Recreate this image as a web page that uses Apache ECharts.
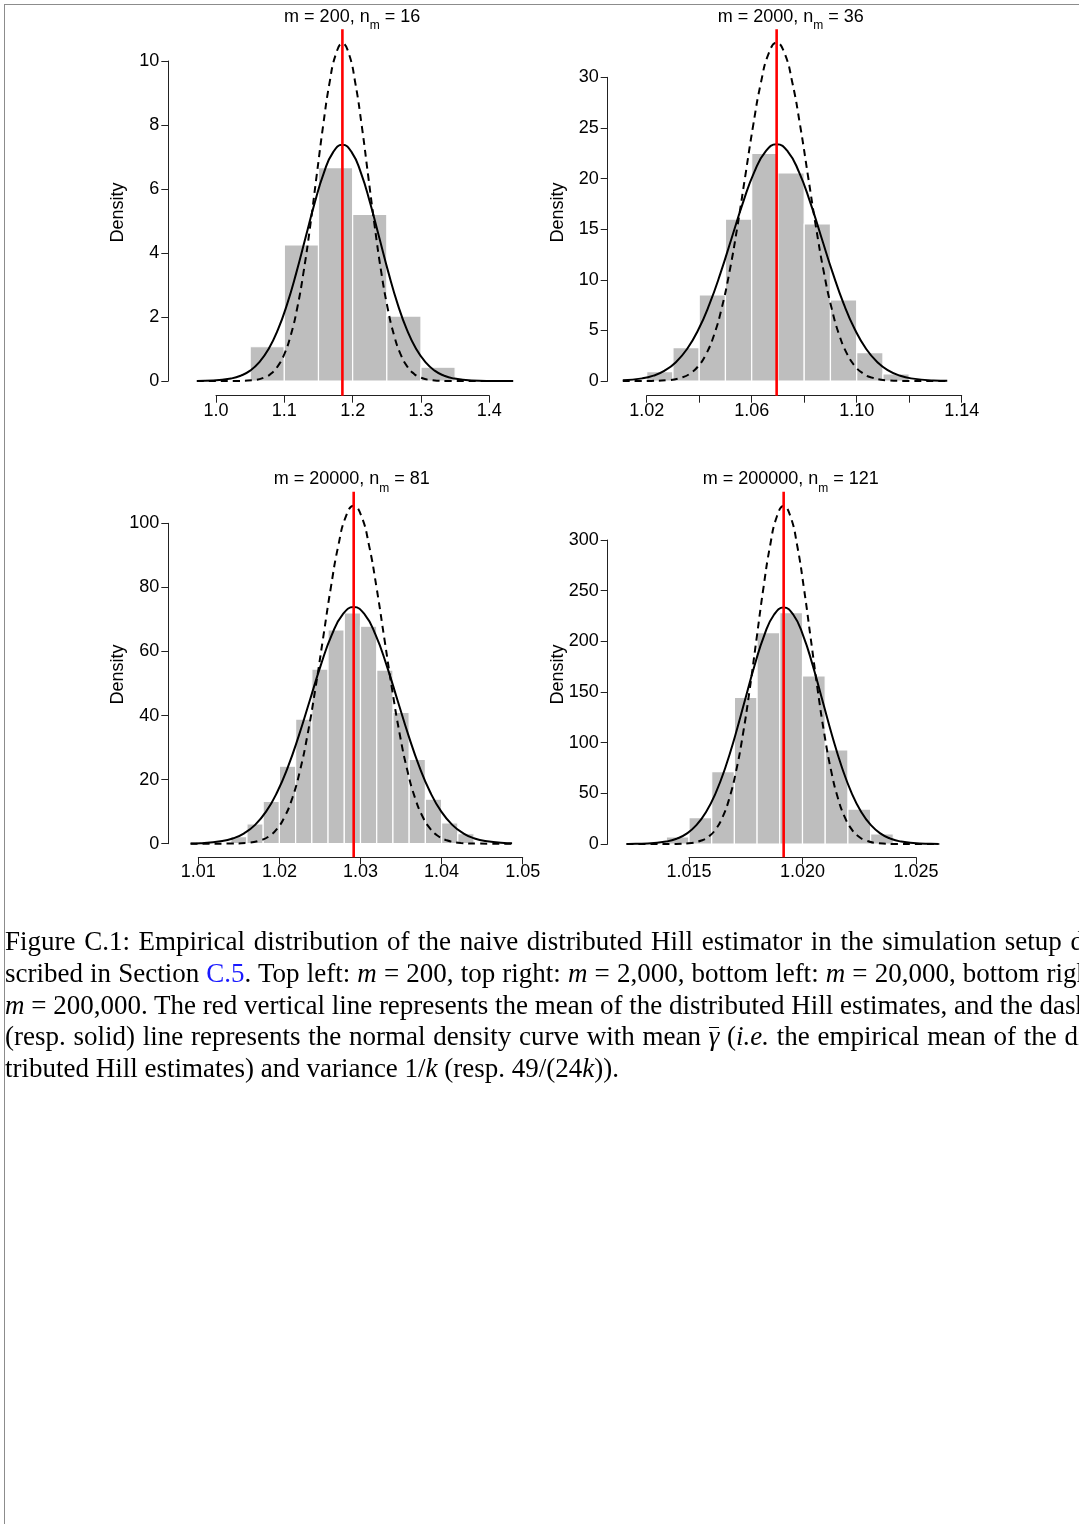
<!DOCTYPE html>
<html><head><meta charset="utf-8">
<script src="https://cdn.jsdelivr.net/npm/echarts@6/dist/echarts.min.js"></script>
<style>
html,body{margin:0;padding:0;background:#fff;width:1079px;height:1524px;overflow:hidden;}
#chart{position:absolute;left:0;top:0;width:1079px;height:1524px;}
#frame{position:absolute;left:4px;top:4px;width:1200px;height:1600px;border-top:1px solid #8c8c8c;border-left:1px solid #8c8c8c;pointer-events:none;}
#caption{position:absolute;left:5px;top:926px;font-family:'Liberation Serif','Times New Roman',serif;font-size:27px;line-height:31.75px;color:#000;}
.ln{white-space:nowrap;width:1100px;text-align:justify;text-align-last:justify;}
.ln.last{text-align-last:left;}
.blue{color:#1a1aff;}
.ov{display:inline-block;border-top:1.3px solid #000;line-height:0.6em;padding-top:0;}
</style>
</head><body>
<div id="chart"></div>
<div id="frame"></div>
<div id="caption">
<div class="ln">Figure C.1: Empirical distribution of the naive distributed Hill estimator in the simulation setup de-</div>
<div class="ln">scribed in Section <span class="blue">C.5</span>. Top left: <i>m</i> = 200, top right: <i>m</i> = 2,000, bottom left: <i>m</i> = 20,000, bottom right:</div>
<div class="ln"><i>m</i> = 200,000. The red vertical line represents the mean of the distributed Hill estimates, and the dashed</div>
<div class="ln">(resp. solid) line represents the normal density curve with mean <span class="ov"><i>γ</i></span> (<i>i.e.</i> the empirical mean of the dis-</div>
<div class="ln last">tributed Hill estimates) and variance 1/<i>k</i> (resp. 49/(24<i>k</i>)).</div>
</div>
<script>
// ---------------- DATA ----------------
const panelTitles = ['m = 200, n{s|m} = 16', 'm = 2000, n{s|m} = 36', 'm = 20000, n{s|m} = 81', 'm = 200000, n{s|m} = 121'];
const yTitle = 'Density';
const means = [1.185, 1.0695, 1.02916, 1.01917];
const binWidth = [0.05, 0.01, 0.002, 0.001];

const binStart1 = [1.05, 1.10, 1.15, 1.20, 1.25, 1.30];
const density1 = [1.07, 4.25, 6.67, 5.21, 2.03, 0.43];
const binStart2 = [1.02, 1.03, 1.04, 1.05, 1.06, 1.07, 1.08, 1.09, 1.10, 1.11];
const density2 = [0.92, 3.29, 8.50, 16.0, 22.49, 20.55, 15.51, 8.0, 2.80, 0.69];
const binStart3 = [1.014, 1.016, 1.018, 1.020, 1.022, 1.024, 1.026, 1.028, 1.030, 1.032, 1.034, 1.036, 1.038, 1.040, 1.042];
const density3 = [2.2, 6.2, 13.2, 24.2, 38.9, 54.5, 66.7, 72.0, 67.9, 54.2, 41.0, 26.3, 13.9, 6.5, 3.1];
const binStart4 = [1.014, 1.015, 1.016, 1.017, 1.018, 1.019, 1.020, 1.021, 1.022, 1.023];
const density4 = [6.9, 26.0, 71.4, 144.7, 208.6, 228.3, 165.8, 92.8, 34.5, 9.9];

// dashed curves (variance 1/k)
const dashX1 = [0.972, 1.0338, 1.0527, 1.0716, 1.0811, 1.0905, 1.1000, 1.1094, 1.1189, 1.1283, 1.1378, 1.1472, 1.1567, 1.1661, 1.1756, 1.1850, 1.1945, 1.2039, 1.2134, 1.2228, 1.2323, 1.2417, 1.2512, 1.2606, 1.2701, 1.2795, 1.2890, 1.2984, 1.3173, 1.3362, 1.435];
const dashY1 = [0, 0.0035, 0.023, 0.117, 0.240, 0.464, 0.839, 1.428, 2.282, 3.425, 4.830, 6.399, 7.964, 9.310, 10.225, 10.55, 10.225, 9.310, 7.964, 6.399, 4.830, 3.425, 2.282, 1.428, 0.839, 0.464, 0.240, 0.117, 0.023, 0.0035, 0];
const dashX2 = [1.0109, 1.02174, 1.02771, 1.03368, 1.03667, 1.03965, 1.04264, 1.04562, 1.04861, 1.05159, 1.05458, 1.05756, 1.06055, 1.06353, 1.06652, 1.0695, 1.07249, 1.07547, 1.07846, 1.08144, 1.08443, 1.08741, 1.09040, 1.09338, 1.09637, 1.09935, 1.10234, 1.10532, 1.11129, 1.11726, 1.1345];
const dashY2 = [0, 0.011, 0.073, 0.371, 0.762, 1.468, 2.659, 4.523, 7.228, 10.850, 15.301, 20.270, 25.227, 29.493, 32.392, 33.42, 32.392, 29.493, 25.227, 20.270, 15.301, 10.850, 7.228, 4.523, 2.659, 1.468, 0.762, 0.371, 0.073, 0.011, 0];
const dashX3 = [1.00905, 1.014032, 1.015923, 1.017814, 1.018759, 1.019705, 1.020650, 1.021596, 1.022541, 1.023487, 1.024432, 1.025378, 1.026323, 1.027269, 1.028214, 1.02916, 1.030106, 1.031051, 1.031997, 1.032942, 1.033888, 1.034833, 1.035779, 1.036724, 1.037670, 1.038615, 1.039561, 1.040506, 1.042397, 1.044288, 1.04869];
const dashY3 = [0, 0.035, 0.231, 1.172, 2.404, 4.636, 8.394, 14.278, 22.816, 34.251, 48.301, 63.989, 79.636, 93.104, 102.254, 105.5, 102.254, 93.104, 79.636, 63.989, 48.301, 34.251, 22.816, 14.278, 8.394, 4.636, 2.404, 1.172, 0.231, 0.035, 0];
const dashX4 = [1.01225, 1.014386, 1.014984, 1.015582, 1.015881, 1.016180, 1.016479, 1.016778, 1.017077, 1.017376, 1.017675, 1.017974, 1.018273, 1.018572, 1.018871, 1.01917, 1.019469, 1.019768, 1.020067, 1.020366, 1.020665, 1.020964, 1.021263, 1.021562, 1.021861, 1.022160, 1.022459, 1.022758, 1.023356, 1.023954, 1.02603];
const dashY4 = [0, 0.112, 0.730, 3.705, 7.600, 14.654, 26.533, 45.136, 72.126, 108.271, 152.686, 202.278, 251.739, 294.314, 323.238, 333.5, 323.238, 294.314, 251.739, 202.278, 152.686, 108.271, 72.126, 45.136, 26.533, 14.654, 7.600, 3.705, 0.730, 0.112, 0];

// solid curves (variance 49/(24k))
const solidX1 = [0.972, 0.996, 1.023, 1.0365, 1.050, 1.0635, 1.077, 1.0905, 1.104, 1.1175, 1.131, 1.1445, 1.158, 1.1715, 1.185, 1.1985, 1.212, 1.2255, 1.239, 1.2525, 1.266, 1.2795, 1.293, 1.3065, 1.320, 1.3335, 1.347, 1.374, 1.401, 1.435];
const solidY1 = [0.0031, 0.016, 0.082, 0.168, 0.324, 0.587, 0.999, 1.596, 2.396, 3.379, 4.476, 5.571, 6.513, 7.153, 7.38, 7.153, 6.513, 5.571, 4.476, 3.379, 2.396, 1.596, 0.999, 0.587, 0.324, 0.168, 0.082, 0.016, 0.0025, 0];
const solidX2 = [1.0109, 1.01832, 1.02259, 1.02685, 1.03112, 1.03538, 1.03965, 1.04391, 1.04818, 1.05244, 1.05671, 1.06097, 1.06524, 1.0695, 1.07377, 1.07803, 1.08230, 1.08656, 1.09083, 1.09509, 1.09936, 1.10362, 1.10789, 1.11215, 1.11642, 1.12068, 1.12921, 1.1345];
const solidY2 = [0.064, 0.260, 0.533, 1.027, 1.860, 3.164, 5.056, 7.590, 10.704, 14.181, 17.648, 20.633, 22.661, 23.38, 22.661, 20.633, 17.648, 14.181, 10.704, 7.590, 5.056, 3.164, 1.860, 1.027, 0.533, 0.260, 0.051, 0.016];
const solidX3 = [1.00905, 1.010249, 1.012951, 1.014302, 1.015652, 1.017003, 1.018354, 1.019705, 1.021055, 1.022406, 1.023757, 1.025108, 1.026458, 1.027809, 1.02916, 1.030511, 1.031862, 1.033212, 1.034563, 1.035914, 1.037265, 1.038615, 1.039966, 1.041317, 1.042668, 1.044018, 1.045369, 1.048071, 1.04869];
const solidY3 = [0.072, 0.162, 0.820, 1.683, 3.245, 5.876, 9.995, 15.971, 23.975, 33.811, 44.792, 55.745, 65.173, 71.578, 73.85, 71.578, 65.173, 55.745, 44.792, 33.811, 23.975, 15.971, 9.995, 5.876, 3.245, 1.683, 0.820, 0.162, 0.107];
const solidX4 = [1.01225, 1.012334, 1.013188, 1.014043, 1.014470, 1.014897, 1.015325, 1.015752, 1.016179, 1.016606, 1.017034, 1.017461, 1.017888, 1.018315, 1.018743, 1.01917, 1.019597, 1.020025, 1.020452, 1.020879, 1.021306, 1.021734, 1.022161, 1.022588, 1.023015, 1.023443, 1.023870, 1.024297, 1.025152, 1.026006, 1.02603];
const solidY4 = [0.06, 0.078, 0.511, 2.593, 5.319, 10.256, 18.569, 31.588, 50.477, 75.773, 106.858, 141.564, 176.180, 205.976, 226.218, 233.4, 226.218, 205.976, 176.180, 141.564, 106.858, 75.773, 50.477, 31.588, 18.569, 10.256, 5.319, 2.593, 0.511, 0.078, 0.06];

// tick labels
const xTicks1 = ['1.0', '1.1', '1.2', '1.3', '1.4'];
const xLabels1 = ['1.0', '1.1', '1.2', '1.3', '1.4'];
const xTicks2 = ['1.02', '1.04', '1.06', '1.08', '1.10', '1.12', '1.14'];
const xLabels2 = ['1.02', '1.06', '1.10', '1.14'];
const xTicks3 = ['1.01', '1.02', '1.03', '1.04', '1.05'];
const xLabels3 = ['1.01', '1.02', '1.03', '1.04', '1.05'];
const xTicks4 = ['1.015', '1.020', '1.025'];
const xLabels4 = ['1.015', '1.020', '1.025'];
const yTicks1 = ['0', '2', '4', '6', '8', '10'];
const yTicks2 = ['0', '5', '10', '15', '20', '25', '30'];
const yTicks3 = ['0', '20', '40', '60', '80', '100'];
const yTicks4 = ['0', '50', '100', '150', '200', '250', '300'];

// ---------------- LAYOUT (pixels) ----------------
const layout = [
  {L: 168.3, T: 29.3, W: 367.7, H: 366.4, xa: [1.0, 216.0, 1.4, 489.3], ya: [0, 381, 10, 61]},
  {L: 607.7, T: 29.3, W: 366.0, H: 366.4, xa: [1.02, 646.7, 1.14, 961.7], ya: [0, 381, 30, 77.3]},
  {L: 168.3, T: 491.7, W: 366.8, H: 365.6, xa: [1.01, 198.3, 1.05, 522.7], ya: [0, 843.7, 100, 523.3]},
  {L: 607.7, T: 491.7, W: 366.0, H: 365.6, xa: [1.015, 689, 1.025, 916], ya: [0, 844, 300, 540]}
];

const panels = [
  {bs: binStart1, d: density1, dx: dashX1, dy: dashY1, sx: solidX1, sy: solidY1, xt: xTicks1, xl: xLabels1, yt: yTicks1},
  {bs: binStart2, d: density2, dx: dashX2, dy: dashY2, sx: solidX2, sy: solidY2, xt: xTicks2, xl: xLabels2, yt: yTicks2},
  {bs: binStart3, d: density3, dx: dashX3, dy: dashY3, sx: solidX3, sy: solidY3, xt: xTicks3, xl: xLabels3, yt: yTicks3},
  {bs: binStart4, d: density4, dx: dashX4, dy: dashY4, sx: solidX4, sy: solidY4, xt: xTicks4, xl: xLabels4, yt: yTicks4}
];

const FONT = "'Liberation Sans', Arial, Helvetica, sans-serif";
const AXC = '#222';
const grids = [], xAxes = [], yAxes = [], series = [], graphics = [];

panels.forEach((p, i) => {
  const g = layout[i];
  const kx = (g.xa[3] - g.xa[1]) / (g.xa[2] - g.xa[0]);
  const ky = (g.ya[1] - g.ya[3]) / (g.ya[2] - g.ya[0]);
  const xmin = g.xa[0] + (g.L - g.xa[1]) / kx;
  const xmax = xmin + g.W / kx;
  const ymax = g.ya[0] + (g.ya[1] - g.T) / ky;
  const ymin = ymax - g.H / ky;
  const px = v => g.xa[1] + (v - g.xa[0]) * kx;
  const py = v => g.ya[1] - (v - g.ya[0]) * ky;

  const x0 = parseFloat(p.xt[0]), x1 = parseFloat(p.xt[p.xt.length - 1]);
  const xInt = parseFloat(p.xt[1]) - x0;
  const y0 = parseFloat(p.yt[0]), y1 = parseFloat(p.yt[p.yt.length - 1]);
  const yInt = parseFloat(p.yt[1]) - y0;
  const dec = p.xt[0].split('.')[1].length;

  grids.push({left: g.L, top: g.T, width: g.W, height: g.H, outerBoundsMode: 'none', containLabel: false});
  grids.push({left: px(x0), top: g.T + g.H - 20, width: px(x1) - px(x0), height: 20, outerBoundsMode: 'none', containLabel: false});
  grids.push({left: g.L, top: py(y1), width: 20, height: py(y0) - py(y1), outerBoundsMode: 'none', containLabel: false});

  const gi = 3 * i;
  xAxes.push({type: 'value', gridIndex: gi, min: xmin, max: xmax, show: false});
  xAxes.push({type: 'value', gridIndex: gi + 1, min: x0, max: x1, interval: xInt, position: 'bottom',
    axisLine: {show: true, onZero: false, lineStyle: {color: AXC, width: 1}},
    axisTick: {show: true, inside: false, length: 7, lineStyle: {color: AXC, width: 1}},
    splitLine: {show: false},
    axisLabel: {show: true, margin: 6, color: '#000', fontSize: 18, fontFamily: FONT, showMinLabel: true, showMaxLabel: true, hideOverlap: false,
      formatter: v => { const s = v.toFixed(dec); return p.xl.indexOf(s) >= 0 ? s : ''; }}
  });
  xAxes.push({type: 'value', gridIndex: gi + 2, min: 0, max: 1, show: false});

  yAxes.push({type: 'value', gridIndex: gi, min: ymin, max: ymax, show: false});
  yAxes.push({type: 'value', gridIndex: gi + 1, min: 0, max: 1, show: false});
  yAxes.push({type: 'value', gridIndex: gi + 2, min: y0, max: y1, interval: yInt, position: 'left',
    axisLine: {show: true, onZero: false, lineStyle: {color: AXC, width: 1}},
    axisTick: {show: true, inside: false, length: 7, lineStyle: {color: AXC, width: 1}},
    splitLine: {show: false},
    axisLabel: {show: true, margin: 9, color: '#000', fontSize: 18, fontFamily: FONT, showMinLabel: true, showMaxLabel: true, hideOverlap: false,
      formatter: v => String(Math.round(v))}
  });

  const w = binWidth[i];
  series.push({
    type: 'custom', xAxisIndex: gi, yAxisIndex: gi, silent: true, animation: false, clip: false,
    data: p.bs.map((s, j) => [s, p.d[j]]),
    encode: {x: 0, y: 1},
    renderItem: (params, api) => {
      const a = api.coord([api.value(0), api.value(1)]);
      const b = api.coord([api.value(0) + w, 0]);
      return {type: 'rect', shape: {x: a[0], y: a[1], width: b[0] - a[0], height: b[1] - a[1]},
        style: {fill: '#bebebe', stroke: '#ffffff', lineWidth: 1.2}};
    },
    z: 2
  });
  series.push({type: 'line', xAxisIndex: gi, yAxisIndex: gi, silent: true, animation: false, showSymbol: false, symbol: 'none',
    data: [[means[i], ymin], [means[i], ymax]],
    lineStyle: {color: '#ff0000', width: 2.6, type: 'solid'}, z: 4});
  series.push({type: 'line', xAxisIndex: gi, yAxisIndex: gi, silent: true, animation: false, showSymbol: false, symbol: 'none',
    smooth: 0.5, data: p.dx.map((x, j) => [x, p.dy[j]]),
    lineStyle: {color: '#000', width: 2, type: [7, 5]}, z: 3});
  series.push({type: 'line', xAxisIndex: gi, yAxisIndex: gi, silent: true, animation: false, showSymbol: false, symbol: 'none',
    smooth: 0.5, data: p.sx.map((x, j) => [x, p.sy[j]]),
    lineStyle: {color: '#000', width: 2, type: 'solid'}, z: 3});

  graphics.push({type: 'text', x: g.L + g.W / 2, y: g.T - 12.5, z: 10, silent: true,
    style: {text: panelTitles[i], align: 'center', verticalAlign: 'middle', fontSize: 18, fontFamily: FONT, fill: '#000', lineHeight: 30,
      rich: {s: {fontSize: 12, fontFamily: FONT, fill: '#000', lineHeight: 17, verticalAlign: 'bottom'}}}});
  graphics.push({type: 'text', x: g.L - 49.8, y: g.T + g.H / 2, rotation: Math.PI / 2, z: 10, silent: true,
    style: {text: yTitle, align: 'center', verticalAlign: 'middle', fontSize: 18, fontFamily: FONT, fill: '#000'}});
});

const chart = echarts.init(document.getElementById('chart'), null, {renderer: 'canvas'});
chart.setOption({
  animation: false,
  backgroundColor: '#ffffff',
  grid: grids, xAxis: xAxes, yAxis: yAxes, series: series,
  graphic: {elements: graphics}
});
</script>
</body></html>
